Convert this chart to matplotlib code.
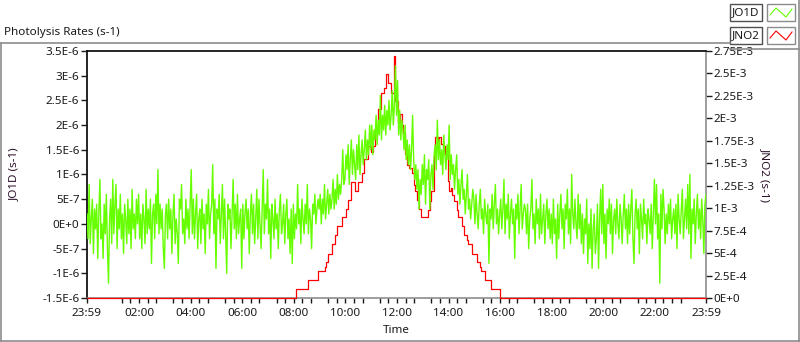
import numpy as np
import matplotlib.pyplot as plt
from matplotlib.lines import Line2D
from matplotlib.patches import Rectangle
from matplotlib.ticker import FixedLocator, FixedFormatter

W, H = 800, 342
plt.rcParams['font.family'] = ['Noto Sans', 'DejaVu Sans']

########### data ################
time_labels = ['23:59', '02:00', '04:00', '06:00', '08:00', '10:00', '12:00',
               '14:00', '16:00', '18:00', '20:00', '22:00', '23:59']

jo1d_ticks = [-1.5e-6, -1e-6, -5e-7, 0, 5e-7, 1e-6, 1.5e-6, 2e-6, 2.5e-6, 3e-6, 3.5e-6]
jo1d_tick_labels = ['-1.5E-6', '-1E-6', '-5E-7', '0E+0', '5E-7', '1E-6', '1.5E-6',
                    '2E-6', '2.5E-6', '3E-6', '3.5E-6']

jno2_ticks = [0, 2.5e-4, 5e-4, 7.5e-4, 1e-3, 1.25e-3, 1.5e-3, 1.75e-3, 2e-3,
              2.25e-3, 2.5e-3, 2.75e-3]
jno2_tick_labels = ['0E+0', '2.5E-4', '5E-4', '7.5E-4', '1E-3', '1.25E-3', '1.5E-3',
                    '1.75E-3', '2E-3', '2.25E-3', '2.5E-3', '2.75E-3']

# JO1D, units of 1E-7 s-1, one row per hour (2.5 min samples) from 23:59
jo1d_e7 = [
    2, -3, 8, -4, 1, 5, -6, 3, -1, 4, -7, 2, 9, -3, 0, -7, 4, -2, 6, -5, -12, 1, 5, -4,
    9, -2, 4, 8, -5, 3, -1, 6, -3, 2, -6, 4, 1, -4, 5, -2, 3, -5, 7, -1, 2, -3, 5, 0,
    6, -3, 2, -5, 4, 1, -4, 7, -2, 3, -1, 5, -8, 2, 4, -3, 6, 0, 11, -2, 4, -1, 3, -5,
    -9, 2, 4, -3, 5, -1, 3, -6, 2, 6, -4, 1, -2, -8, 5, 3, 8, -2, 1, -4, 5, -1, 3, -3,
    4, 11, -2, 5, -3, 2, 6, -5, 1, 3, -4, 5, -1, 2, -6, 4, 0, 7, -3, 2, 4, 12, -2, 5,
    -9, 3, 1, 6, -4, 2, 8, -3, 5, -2, -10, 4, 1, 3, -5, 2, 9, -1, 4, -3, 6, -2, 1, 3,
    -9, 4, -3, 2, 5, -1, 3, -6, 2, 6, -2, 4, -4, 1, 7, -3, 5, 0, -5, 3, 11, -2, 4, 1,
    9, -2, 3, -7, 4, 1, -3, 5, -1, 2, -5, 3, 6, -2, 0, 4, -4, 2, 5, -3, 1, -6, 3, -8,
    4, -3, 2, -1, 8, 0, 3, -4, 5, 1, -2, 4, 0, 8, -2, 3, 1, -5, 4, 2, 6, 0, 3, 5,
    3, 6, 0, 5, 2, 8, 1, 4, 7, 2, 6, 3, 5, 9, 3, 7, 4, 10, 5, 8, 6, 9, 15, 8,
    9, 14, 11, 16, 8, 13, 17, 10, 15, 12, 9, 16, 11, 18, 10, 14, 17, 12, 15, 19, 13, 17, 14, 20,
    15, 20, 14, 19, 17, 22, 16, 21, 18, 26, 17, 22, 19, 24, 18, 23, 20, 25, 19, 22, 27, 20, 24, 32,
    22, 29, 18, 23, 17, 21, 19, 15, 20, 13, 17, 12, 16, 11, 15, 22, 13, 9, 12, 7, 11, 3, 9, 6,
    12, 8, 14, 4, 11, 9, 13, 3, 10, 12, 7, 14, 16, 11, 21, 13, 17, 12, 15, 10, 18, 14, 11, 16,
    13, 20, 9, 14, 10, 12, 7, 11, 14, 6, 9, 4, 8, 11, 5, 7, 2, 6, 10, 3, 5, 1, 4, 7,
    5, 0, 6, 2, -1, 4, 7, 1, 3, -2, 5, 2, 0, 4, -8, 3, 1, 6, -1, 4, 8, 0, 3, -2,
    2, 5, -1, 3, 9, -2, 4, 1, 6, -3, 2, 5, 0, 3, -7, 4, 1, 6, -2, 3, 8, -1, 2, 4,
    3, -2, 4, -5, 1, 3, 9, -1, 2, -4, 5, 0, 3, -3, 6, -2, 1, 4, -4, 2, 5, -1, 3, -3,
    2, -4, 5, -2, 1, -7, 4, -3, 2, 6, -1, 3, -5, 4, 1, 7, -2, 3, -4, 10, 2, -1, 5, 0,
    -3, 6, -1, 4, -4, 2, -6, 1, -2, 5, -8, 0, -5, 3, -9, -1, 2, -6, -3, 4, -9, 1, 7, -2,
    8, -4, 2, -7, 3, 0, 5, -2, 4, -6, 1, 3, -2, 5, 0, -3, 4, 1, -4, 2, 6, -1, 3, -4,
    4, -2, 3, 7, -3, -8, 2, 5, -1, 3, -6, 4, 1, -3, 5, 0, 2, -4, 3, 1, -2, 4, -5, 2,
    9, 0, 8, -3, 2, -12, 6, -1, 7, 3, -4, 2, -2, 4, 0, 5, -3, 1, 3, -2, 4, -5, 6, 1,
    -2, 3, 7, -3, 1, 5, -1, 8, -2, 10, -7, 3, 0, 5, -4, 2, 6, -1, 3, -3, 5, 1, -6, 4,
    6,
]

# JNO2 step changes: hours after 23:59, value in 1E-3 s-1
jno2_step_hours = [0, 8.09, 8.58, 8.97, 9.23, 9.28, 9.36, 9.50, 9.63, 9.70, 9.90, 10.04,
                   10.13, 10.24, 10.38, 10.49, 10.67, 10.75, 10.91, 11.02, 11.08, 11.17,
                   11.30, 11.40, 11.50, 11.58, 11.67, 11.80, 11.90, 11.95, 12.04, 12.12,
                   12.20, 12.27, 12.33, 12.42, 12.50, 12.59, 12.66, 12.72, 12.81, 12.89,
                   12.96, 13.24, 13.30, 13.35, 13.45, 13.50, 13.60, 13.66, 13.73, 13.79,
                   13.88, 13.98, 14.04, 14.10, 14.16, 14.23, 14.36, 14.40, 14.55, 14.63,
                   14.72, 14.78, 14.91, 15.13, 15.22, 15.26, 15.44, 15.66, 16.01, 24.0]
jno2_step_e3 = [0, 0.10, 0.20, 0.30, 0.35, 0.40, 0.49, 0.60, 0.70, 0.80, 0.90, 0.99,
                1.09, 1.29, 1.19, 1.29, 1.39, 1.55, 1.69, 1.63, 1.69, 1.89,
                2.10, 2.28, 2.34, 2.49, 2.39, 2.28, 2.69, 2.19, 1.95, 2.05,
                1.93, 1.84, 1.60, 1.48, 1.45, 1.39, 1.26, 1.19, 1.09, 0.99,
                0.90, 0.98, 1.08, 1.19, 1.58, 1.79, 1.72, 1.79, 1.72, 1.69,
                1.60, 1.30, 1.19, 1.22, 1.15, 1.08, 0.98, 0.90, 0.80, 0.70,
                0.65, 0.60, 0.49, 0.40, 0.35, 0.30, 0.20, 0.10, 0.0, 0.0]
####################################


def hours_after_start(label, idx):
    # minutes after 23:59 of the first day
    if label == '23:59':
        return 0.0 if idx == 0 else 24.0
    hh, mm = map(int, label.split(':'))
    return (hh * 60 + mm + 1) / 60.0


def px(x, y):
    return x / W, 1 - y / H


green = '#66ff00'
grey = '#8c8c8c'
txt = '#1a1a1a'

fig = plt.figure(figsize=(W / 100, H / 100), dpi=100)
ax2 = fig.add_axes([87 / W, 1 - 298 / H, (706 - 87) / W, (298 - 51) / H])
ax = ax2.twinx()          # JO1D axis drawn on top, but its ticks moved to the left
ax.yaxis.tick_left()
ax.yaxis.set_label_position('left')
ax2.yaxis.tick_right()
ax2.yaxis.set_label_position('right')

jo1d = np.array(jo1d_e7) * 1e-7
t_green = np.linspace(0, 24, len(jo1d))
ax.plot(t_green, jo1d, color=green, lw=1.0)

ax2.plot(jno2_step_hours, np.array(jno2_step_e3) * 1e-3, color='red', lw=0.9,
         drawstyle='steps-post', clip_on=False, zorder=3)

ax2.set_xlim(0, 24)
ax.set_ylim(-1.5e-6, 3.5e-6)
ax2.set_ylim(0, 2.75e-3)

major_pos = [hours_after_start(l, i) for i, l in enumerate(time_labels)]
ax2.xaxis.set_major_locator(FixedLocator(major_pos))
ax2.xaxis.set_major_formatter(FixedFormatter(time_labels))
minor_pos = [p + k / 3 for p in major_pos[1:-1] for k in (-2, -1, 1, 2)]
minor_pos += [major_pos[-2] + 1.0]
ax2.xaxis.set_minor_locator(FixedLocator(sorted(set(round(m, 4) for m in minor_pos if 0 < m < 24))))

ax.yaxis.set_major_locator(FixedLocator(jo1d_ticks))
ax.yaxis.set_major_formatter(FixedFormatter(jo1d_tick_labels))
ax2.yaxis.set_major_locator(FixedLocator(jno2_ticks))
ax2.yaxis.set_major_formatter(FixedFormatter(jno2_tick_labels))

fs = 8.4
ax2.tick_params(axis='x', which='both', length=3.5, width=1, direction='out',
                labelsize=fs, pad=4, colors=txt)
ax.tick_params(axis='y', length=4, width=1, labelsize=fs, pad=1.5, colors=txt)
ax2.tick_params(axis='y', length=4, width=1, labelsize=fs, pad=1.5, colors=txt)

# only the lower axes draws the frame, so the red zero line sits on top of it
for s in ax.spines.values():
    s.set_visible(False)
ax2.spines['left'].set_color('black')
ax2.spines['top'].set_color('black')
ax2.spines['right'].set_color(grey)
ax2.spines['bottom'].set_color(grey)
for s in ax2.spines.values():
    s.set_linewidth(1.2)

ax2.set_xlabel('Time', fontsize=fs, labelpad=4, color=txt)
ax.set_ylabel('JO1D (s-1)', fontsize=fs, color='#2a1028', labelpad=16)
ax2.set_ylabel('JNO2 (s-1)', fontsize=fs, color='#2a1028', rotation=270, labelpad=12)

fig.text(4 / W, 1 - 32 / H, 'Photolysis Rates (s-1)', fontsize=fs, ha='left',
         va='center', color=txt)

# outer frame
frame = [((0.5, 42.5), (730, 42.5)), ((0.5, 42.5), (0.5, 340.5)),
         ((0.5, 340.5), (799.5, 340.5)), ((799, 0), (799, 340.5)), ((730, 49), (799, 49))]
for (x0, y0), (x1, y1) in frame:
    a0, b0 = px(x0, y0)
    a1, b1 = px(x1, y1)
    fig.add_artist(Line2D([a0, a1], [b0, b1], transform=fig.transFigure,
                          color=grey, lw=1.2))

# legend
for row, (name, col) in enumerate([('JO1D', green), ('JNO2', 'red')]):
    top = 4 + row * 23
    x0, y0 = px(730, top + 17)
    fig.add_artist(Rectangle((x0, y0), 32 / W, 17 / H, transform=fig.transFigure,
                             fill=False, ec='#505050', lw=1))
    fig.text(746 / W, 1 - (top + 8.5) / H, name, fontsize=fs, ha='center', va='center',
             color=txt)
    x0, y0 = px(767, top + 17)
    fig.add_artist(Rectangle((x0, y0), 28 / W, 17 / H, transform=fig.transFigure,
                             fc='white', ec=grey, lw=1))
    xs = [770, 776, 786, 792]
    ys = [top + 11, top + 4, top + 13, top + 5]
    fig.add_artist(Line2D([x / W for x in xs], [1 - y / H for y in ys],
                          transform=fig.transFigure, color=col, lw=0.8))

fig.savefig('out.png', dpi=100)
